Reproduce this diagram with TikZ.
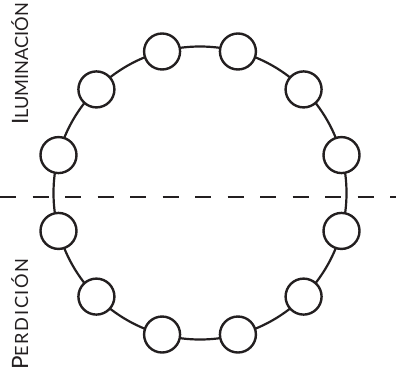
\documentclass[tikz,border=0pt]{standalone}
\usepackage{fontspec}
\setmainfont{Lato}
\newfontfamily\abierta[LetterSpace=9]{Lato}
\usetikzlibrary{positioning,calc}
\definecolor{trazo}{RGB}{35,31,32}
\newcommand{\versal}[2]{{\fontsize{22.5}{22.5}\selectfont #1}{\fontsize{18.2}{18.2}\selectfont #2}}
\tikzset{
  estacion/.style={circle,draw=trazo,fill=white,line width=2.4pt,minimum size=36pt,inner sep=0pt},
  rotulo/.style={rotate=90,anchor=base west,inner sep=0pt,text=trazo}
}

\begin{document}
\begin{tikzpicture}[x=1pt,y=-1pt]
  \useasboundingbox (0,0) rectangle (396,373);
  \coordinate (centro) at (200,193);
  \coordinate (izq) at (0,197);
  \coordinate (der) at (396,197);
  % ciclo
  \draw[trazo,line width=2.2pt] (centro) circle (146.5);
  \draw[trazo,line width=2.4pt,dash pattern=on 16pt off 16.5pt] (izq) -- (der);
  \foreach \k in {0,...,11}{\node[estacion] (e\k) at ($(centro)+(15+30*\k:146.5)$) {};}
  % mitades
  \node[rotulo] (ilum) at (28,125) {\versal{I}{LUMINACIÓN}};
  \node[rotulo,font=\abierta] (perd) at (28,370) {\versal{P}{ERDICIÓN}};
\end{tikzpicture}
\end{document}
